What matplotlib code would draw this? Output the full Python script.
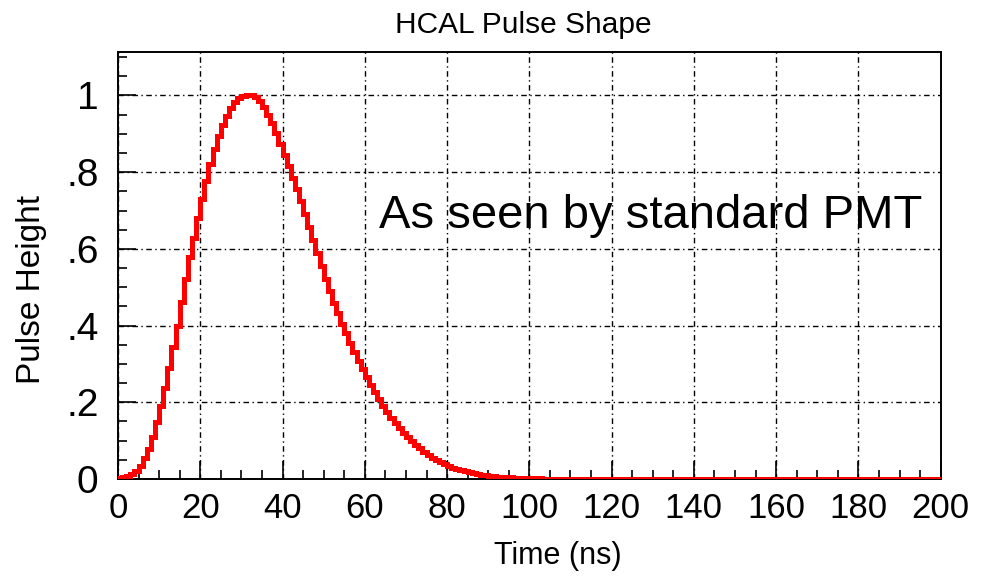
import matplotlib
matplotlib.use("Agg")
import matplotlib.pyplot as plt
from matplotlib.ticker import MultipleLocator, FixedLocator, FixedFormatter

plt.rcParams['font.family'] = ['Liberation Sans', 'DejaVu Sans']

# --- data (1 ns bins, 0..200 ns) ---
BIN_EDGES = list(range(0, 201))
PULSE_RISE = [
    0.002, 0.004, 0.008, 0.013, 0.021, 0.034, 0.054, 0.079, 0.110, 0.148,
    0.190, 0.238, 0.290, 0.345, 0.400, 0.462, 0.522, 0.578, 0.628, 0.680,
    0.730, 0.778, 0.820, 0.860, 0.895, 0.922, 0.947, 0.966, 0.982, 0.993,
    0.999, 1.000, 1.000, 0.996,
]
PULSE_FALL = [
    0.986, 0.970, 0.950, 0.927, 0.902, 0.874, 0.846, 0.816, 0.786, 0.755,
    0.724, 0.690, 0.656, 0.622, 0.590, 0.556, 0.522, 0.490, 0.460, 0.432,
    0.405, 0.380, 0.355, 0.331, 0.308, 0.286, 0.265, 0.245, 0.226, 0.208,
    0.191, 0.175, 0.160, 0.146, 0.133, 0.121, 0.109, 0.099, 0.089, 0.080,
    0.071, 0.063, 0.056, 0.050, 0.044, 0.039, 0.034, 0.030, 0.026, 0.023,
    0.020, 0.017, 0.015, 0.013, 0.011, 0.010, 0.008, 0.007, 0.006, 0.005,
    0.0045, 0.004, 0.0035, 0.003, 0.0027, 0.0024, 0.002, 0.0017, 0.0014, 0.0012,
    0.001, 0.0008,
]
PULSE_TAIL = [0.0] * 94
PULSE = PULSE_RISE + PULSE_FALL + PULSE_TAIL

Y_TICKS = [0, 0.2, 0.4, 0.6, 0.8, 1.0]
Y_TICK_LABELS = ['0', '.2', '.4', '.6', '.8', '1']
X_TICKS = list(range(0, 201, 20))

TITLE = 'HCAL Pulse Shape'
XLABEL = 'Time (ns)'
YLABEL = 'Pulse Height'
NOTE = 'As seen by standard PMT'

fig = plt.figure(figsize=(9.85, 5.79), dpi=100)
ax = fig.add_axes([0.1198, 0.1727, 0.955 - 0.1198, 0.910 - 0.1727])

ax.stairs(PULSE, BIN_EDGES, color='#ff0000', lw=3.6, zorder=3)

ax.set_xlim(0, 200)
ax.set_ylim(0, 1.113)

ax.xaxis.set_major_locator(FixedLocator(X_TICKS))
ax.xaxis.set_minor_locator(MultipleLocator(5))
ax.yaxis.set_major_locator(FixedLocator(Y_TICKS))
ax.yaxis.set_major_formatter(FixedFormatter(Y_TICK_LABELS))
ax.yaxis.set_minor_locator(MultipleLocator(0.05))

ax.tick_params(which='both', direction='in', top=False, right=False, width=1.2)
ax.tick_params(which='major', length=13)
ax.tick_params(which='minor', length=6.5)
ax.tick_params(axis='x', which='major', labelsize=25, pad=9)
ax.tick_params(axis='y', which='major', labelsize=28, pad=14)

ax.grid(True, which='major', color='black', lw=1.0, linestyle=(0, (4, 2.5, 1, 2.5)))
ax.set_axisbelow(True)
for sp in ax.spines.values():
    sp.set_linewidth(1.4)

fig.text(0.531, 0.957, TITLE, ha='center', va='center', fontsize=21.5)
fig.text(0.566, 0.040, XLABEL, ha='center', va='center', fontsize=22)
fig.text(0.032, 0.500, YLABEL, ha='center', va='center', rotation=90, fontsize=24)
ax.text(63.5, 0.655, NOTE, ha='left', va='baseline', fontsize=34)

fig.savefig('out.png', dpi=100)
